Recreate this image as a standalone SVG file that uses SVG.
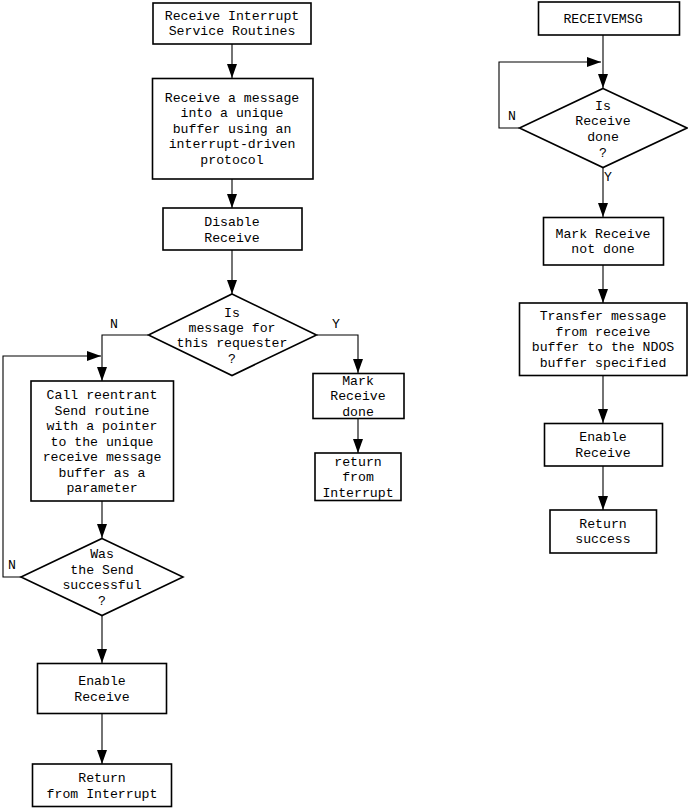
<svg xmlns="http://www.w3.org/2000/svg" width="688" height="808" viewBox="0 0 688 808">
<style>
.b{fill:#fff;stroke:#000;stroke-width:1.6}
.c{fill:none;stroke:#000;stroke-width:1.1}
text{font-family:"Liberation Mono","DejaVu Sans Mono",monospace;font-size:13.2px;fill:#000;text-anchor:middle}
.l{text-anchor:start}
</style>
<defs>
<marker id="ah" viewBox="0 0 14 10" markerUnits="userSpaceOnUse" markerWidth="14" markerHeight="10" refX="14" refY="5" orient="auto">
<path d="M0,0 L14,5 L0,10 z" fill="#000"/>
</marker>
</defs>
<g id="connectors">
<line class="c" x1="232" y1="44" x2="232" y2="78" marker-end="url(#ah)"/>
<line class="c" x1="232" y1="179" x2="232" y2="208" marker-end="url(#ah)"/>
<line class="c" x1="232" y1="250" x2="232" y2="294" marker-end="url(#ah)"/>
<polyline class="c" points="148,335 102,335 102,381" marker-end="url(#ah)"/>
<polyline class="c" points="317,335 358,335 358,373" marker-end="url(#ah)"/>
<line class="c" x1="358" y1="418" x2="358" y2="453" marker-end="url(#ah)"/>
<line class="c" x1="102" y1="501" x2="102" y2="538" marker-end="url(#ah)"/>
<polyline class="c" points="21,577 3,577 3,356 101,356" marker-end="url(#ah)"/>
<line class="c" x1="102" y1="615" x2="102" y2="663" marker-end="url(#ah)"/>
<line class="c" x1="102" y1="713" x2="102" y2="764" marker-end="url(#ah)"/>
<line class="c" x1="603" y1="35" x2="603" y2="88" marker-end="url(#ah)"/>
<polyline class="c" points="519,128 499,128 499,62 601,62" marker-end="url(#ah)"/>
<line class="c" x1="603" y1="168" x2="603" y2="217" marker-end="url(#ah)"/>
<line class="c" x1="603" y1="265" x2="603" y2="303" marker-end="url(#ah)"/>
<line class="c" x1="603" y1="376" x2="603" y2="423" marker-end="url(#ah)"/>
<line class="c" x1="603" y1="466" x2="603" y2="510" marker-end="url(#ah)"/>
<text class="l" x="110" y="328">N</text>
<text class="l" x="332" y="328">Y</text>
<text class="l" x="8" y="568.5">N</text>
<text class="l" x="508" y="120">N</text>
<text class="l" x="604" y="180.5">Y</text>
</g>
<g id="n1"><rect class="b" x="153" y="3" width="158" height="41"/>
<text x="232" y="19.5">Receive Interrupt</text><text x="232" y="34.5">Service Routines</text></g>
<g id="n2"><rect class="b" x="152.5" y="78.5" width="160.5" height="100.5"/>
<text x="232" y="102">Receive a message</text><text x="232" y="117">into a unique</text><text x="232" y="132.5">buffer using an</text><text x="232" y="148">interrupt-driven</text><text x="232" y="163.5">protocol</text></g>
<g id="n3"><rect class="b" x="163" y="208" width="139" height="42"/>
<text x="232" y="225.5">Disable</text><text x="232" y="241.5">Receive</text></g>
<g id="d1"><polygon class="b" points="232,294 316.5,335 232,375.5 148.5,335"/>
<text x="232" y="317">Is</text><text x="232" y="331.5">message for</text><text x="232" y="347">this requester</text><text x="232" y="363">?</text></g>
<g id="n4"><rect class="b" x="31" y="381" width="142.5" height="120"/>
<text x="102" y="399">Call reentrant</text><text x="102" y="414.5">Send routine</text><text x="102" y="430">with a pointer</text><text x="102" y="446">to the unique</text><text x="102" y="461">receive message</text><text x="102" y="477">buffer as a</text><text x="102" y="492">parameter</text></g>
<g id="n5"><rect class="b" x="313" y="373.5" width="91" height="45"/>
<text x="358" y="384.5">Mark</text><text x="358" y="400">Receive</text><text x="358" y="415.5">done</text></g>
<g id="n6"><rect class="b" x="315" y="453" width="86" height="47.5"/>
<text x="358" y="466">return</text><text x="358" y="481">from</text><text x="358" y="497">Interrupt</text></g>
<g id="d2"><polygon class="b" points="102,538.5 183,577 102,615.5 21,577"/>
<text x="102" y="558">Was</text><text x="102" y="573.5">the Send</text><text x="102" y="588.5">successful</text><text x="102" y="604.5">?</text></g>
<g id="n7"><rect class="b" x="37.5" y="663.5" width="129" height="50"/>
<text x="102" y="685">Enable</text><text x="102" y="700.5">Receive</text></g>
<g id="n8"><rect class="b" x="32.5" y="764" width="139" height="42.5"/>
<text x="102" y="782">Return</text><text x="102" y="797.5">from Interrupt</text></g>
<g id="m1"><rect class="b" x="538.5" y="2" width="141" height="33"/>
<text x="603" y="23">RECEIVEMSG</text></g>
<g id="d3"><polygon class="b" points="603,88.5 687,128 603,167.5 519.5,128"/>
<text x="603" y="110">Is</text><text x="603" y="124.5">Receive</text><text x="603" y="140.5">done</text><text x="603" y="156.5">?</text></g>
<g id="m2"><rect class="b" x="543.5" y="217.5" width="120" height="47.5"/>
<text x="603" y="238">Mark Receive</text><text x="603" y="253">not done</text></g>
<g id="m3"><rect class="b" x="519.5" y="303" width="167.5" height="72.5"/>
<text x="603" y="320">Transfer message</text><text x="603" y="335.5">from receive</text><text x="603" y="351">buffer to the NDOS</text><text x="603" y="366.5">buffer specified</text></g>
<g id="m4"><rect class="b" x="544.5" y="423.5" width="118" height="42.5"/>
<text x="603" y="441">Enable</text><text x="603" y="456.5">Receive</text></g>
<g id="m5"><rect class="b" x="550" y="510" width="106.5" height="43"/>
<text x="603" y="528">Return</text><text x="603" y="543">success</text></g>
</svg>
